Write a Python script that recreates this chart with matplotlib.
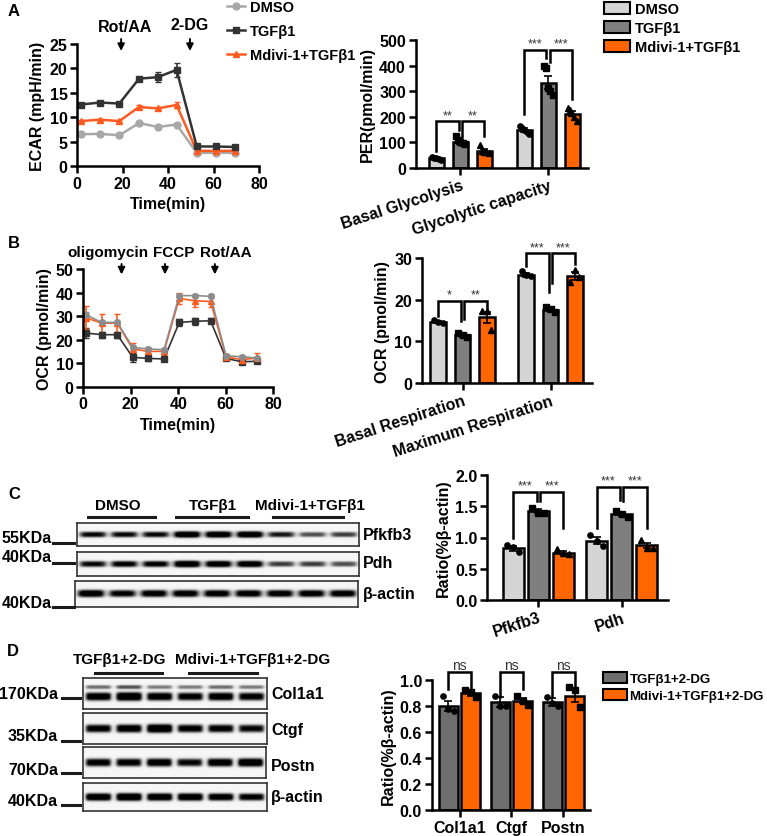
import matplotlib
matplotlib.use("Agg")
import matplotlib.pyplot as plt
import numpy as np
from matplotlib.lines import Line2D
from matplotlib.patches import Patch

plt.rcParams['font.family'] = ['Liberation Sans', 'DejaVu Sans']
plt.rcParams['font.weight'] = 'bold'
plt.rcParams['axes.labelweight'] = 'bold'

W, H = 767, 837

C_DMSO = '#d4d4d4'
C_TGF = '#7f7f7f'
C_MDV = '#ff6600'
C_TGF_D = '#6e6e6e'

# ---------------- data ----------------
# A: ECAR time course
ecar_time = [1.5, 10, 18.5, 27.2, 35.4, 43.7, 52.6, 60.9, 69.4]
ecar_dmso = [6.5, 6.6, 6.3, 8.8, 8.0, 8.5, 2.7, 2.7, 2.7]
ecar_tgf = [12.6, 13.0, 12.8, 17.9, 18.2, 19.7, 4.0, 4.0, 3.9]
ecar_mdv = [9.2, 9.5, 9.2, 12.1, 11.8, 12.5, 3.1, 3.1, 3.1]
ecar_dmso_err = [0.2, 0.2, 0.2, 0.2, 0.2, 0.2, 0.1, 0.1, 0.1]
ecar_tgf_err = [0.3, 0.3, 0.3, 0.4, 1.0, 1.5, 0.2, 0.2, 0.2]
ecar_mdv_err = [0.2, 0.2, 0.2, 0.3, 0.3, 0.6, 0.1, 0.1, 0.1]

# A: PER bars
per_groups = ['Basal Glycolysis', 'Glycolytic capacity']
per_dmso = [38, 148]
per_tgf = [103, 333]
per_mdv = [68, 212]
per_dmso_err = [4, 8]
per_tgf_err = [8, 25]
per_mdv_err = [5, 10]
per_dmso_pts = [[44, 40, 38, 34, 30], [165, 158, 150, 140, 132]]
per_tgf_pts = [[125, 110, 100, 96, 92], [400, 392, 312, 300, 285]]
per_mdv_pts = [[88, 68, 64, 62, 60], [235, 228, 215, 200, 182]]
per_sig = [(0, 0, 1, 183, 68, 148, '**'), (0, 1, 2, 183, 122, 124, '**'),
           (1, 0, 1, 462, 211, 428, '***'), (1, 1, 2, 462, 413, 270, '***')]

# B: OCR time course
ocr_time = [1.1, 7.7, 14.3, 20.8, 27.4, 34, 40.4, 47, 53.6, 60.1, 66.7, 73.3]
ocr_dmso = [30.6, 27.3, 27.3, 16.7, 16.0, 15.7, 38.7, 38.7, 38.4, 13.2, 12.7, 12.2]
ocr_tgf = [22.8, 22.1, 22.1, 12.5, 12.0, 11.8, 27.3, 27.8, 28.0, 12.0, 10.6, 10.8]
ocr_mdv = [29.3, 27.0, 27.0, 16.0, 15.0, 15.0, 37.5, 36.5, 36.2, 12.7, 11.5, 12.2]
ocr_dmso_err = [1.0, 0.8, 0.8, 0.8, 0.8, 0.8, 0.8, 0.8, 0.8, 0.6, 0.6, 0.6]
ocr_tgf_err = [2.2, 1.2, 1.2, 1.8, 1.0, 1.0, 1.5, 1.5, 1.0, 0.6, 1.0, 0.8]
ocr_mdv_err = [5.0, 4.0, 4.0, 2.5, 1.5, 1.5, 2.5, 2.5, 2.5, 1.0, 1.0, 2.0]

# B: OCR bars
ocr_groups = ['Basal Respiration', 'Maximum Respiration']
ocrb_dmso = [14.7, 26.0]
ocrb_tgf = [11.5, 17.5]
ocrb_mdv = [15.8, 25.7]
ocrb_dmso_err = [0.3, 0.5]
ocrb_tgf_err = [0.4, 0.3]
ocrb_mdv_err = [1.3, 1.0]
ocrb_dmso_pts = [[15.2, 14.6, 14.4], [27.0, 26.0, 25.7]]
ocrb_tgf_pts = [[12.0, 11.6, 11.0], [18.2, 17.8, 17.2]]
ocrb_mdv_pts = [[17.3, 17.3, 12.8], [24.3, 27.2, 25.5]]
ocr_sig = [(0, 0, 1, 19.8, 16.2, 15.0, '*'), (0, 1, 2, 19.8, 15.3, 18.0, '**'),
           (1, 0, 1, 31.2, 28.2, 22.0, '***'), (1, 1, 2, 31.2, 24.0, 28.6, '***')]

# C: western blot quantification
c_groups = ['Pfkfb3', 'Pdh']
c_dmso = [0.83, 0.95]
c_tgf = [1.42, 1.37]
c_mdv = [0.76, 0.88]
c_dmso_err = [0.04, 0.06]
c_tgf_err = [0.03, 0.03]
c_mdv_err = [0.03, 0.04]
c_dmso_pts = [[0.88, 0.85, 0.77], [1.04, 0.94, 0.86]]
c_tgf_pts = [[1.47, 1.40, 1.39], [1.42, 1.38, 1.33]]
c_mdv_pts = [[0.81, 0.75, 0.73], [0.96, 0.84, 0.84]]
c_sig = [(0, 0, 1, 1.73, 1.0, 1.59, '***'), (0, 1, 2, 1.73, 1.59, 1.16, '***'),
         (1, 0, 1, 1.81, 1.16, 1.60, '***'), (1, 1, 2, 1.81, 1.59, 1.16, '***')]

# C blot band intensities (9 lanes)
c_lanes = ['DMSO', 'TGFβ1', 'Mdivi-1+TGFβ1']
c_pfkfb3 = [0.80, 0.80, 0.80, 1.00, 1.00, 1.00, 0.75, 0.60, 0.65]
c_pdh = [0.80, 0.85, 0.85, 1.00, 0.95, 0.95, 0.65, 0.65, 0.60]
c_actin = [0.95, 0.85, 0.90, 0.90, 0.90, 0.90, 0.90, 0.90, 0.90]

# D: western blot quantification
d_groups = ['Col1a1', 'Ctgf', 'Postn']
d_tgf = [0.80, 0.83, 0.83]
d_mdv = [0.90, 0.84, 0.88]
d_tgf_err = [0.04, 0.04, 0.03]
d_mdv_err = [0.02, 0.02, 0.05]
d_tgf_pts = [[0.88, 0.78, 0.76], [0.88, 0.80, 0.80], [0.87, 0.82, 0.80]]
d_mdv_pts = [[0.92, 0.91, 0.87], [0.88, 0.84, 0.81], [0.95, 0.92, 0.79]]
d_sig = [(0, 0, 1, 1.06, 0.93, 0.93, 'ns'), (1, 0, 1, 1.06, 0.87, 0.93, 'ns'),
         (2, 0, 1, 1.06, 0.87, 0.94, 'ns')]

# D blot band intensities (6 lanes)
d_lanes = ['TGFβ1+2-DG', 'Mdivi-1+TGFβ1+2-DG']
d_col1a1 = [0.90, 1.00, 0.90, 0.85, 0.90, 0.85]
d_col1a1_upper = [0.55, 0.65, 0.50, 0.50, 0.55, 0.50]
d_ctgf = [0.85, 0.90, 1.00, 0.85, 0.85, 0.80]
d_postn = [0.85, 0.85, 0.90, 0.80, 0.90, 0.95]
d_actin = [0.95, 1.00, 0.95, 0.95, 0.90, 0.85]

# ---------------- helpers ----------------
fig = plt.figure(figsize=(W / 100, H / 100), dpi=100)


def px_axes(l, t, r, b):
    return fig.add_axes([l / W, 1 - b / H, (r - l) / W, (b - t) / H])


def ftext(x, y, s, **kw):
    kw.setdefault('fontsize', 11)
    kw.setdefault('va', 'center')
    fig.text(x / W, 1 - y / H, s, **kw)


def fline(x1, x2, y, lw=2.2, color='#1a1a1a'):
    fig.add_artist(Line2D([x1 / W, x2 / W], [1 - y / H, 1 - y / H],
                          transform=fig.transFigure, color=color, lw=lw))


def style(ax, lw=1.8):
    ax.spines[['top', 'right']].set_visible(False)
    for s in ['left', 'bottom']:
        ax.spines[s].set_linewidth(lw)
    ax.tick_params(width=lw, length=5, labelsize=11.5, pad=2)


def bar_panel(ax, means, errs, pts, colors, markers, offsets, width, sig):
    for k in range(len(means)):
        for g in range(len(means[k])):
            x = g + offsets[k]
            ax.bar(x, means[k][g], width, color=colors[k], edgecolor='k',
                   linewidth=1.8, zorder=2)
            ax.errorbar(x, means[k][g], yerr=errs[k][g], color='k', capsize=3,
                        lw=1.2, capthick=1.2, zorder=3)
            p = pts[k][g]
            xs = x + np.linspace(-width * 0.3, width * 0.3, len(p))
            ax.plot(xs, p, ls='none', marker=markers[k], color='k', ms=3.8,
                    zorder=4, clip_on=False)
    gap = 0.02
    for g, k1, k2, top, y1, y2, lab in sig:
        x1 = g + offsets[k1] + (gap if k1 > 0 else 0)
        x2 = g + offsets[k2] - (gap if k2 < len(means) - 1 else 0)
        if k1 == 0 and len(means) == 3:
            x2 = g + offsets[k2] - gap
        ax.plot([x1, x1, x2, x2], [y1, top, top, y2], color='k', lw=1.8,
                clip_on=False, solid_joinstyle='miter')
        ax.text((x1 + x2) / 2, top, lab, ha='center', va='bottom',
                fontsize=9 if lab != 'ns' else 10, fontweight='normal',
                color='#333333')


def blot(l, t, r, b, amp, upper=None, yc=0.0):
    ax = px_axes(l, t, r, b)
    h, w = 80, 500
    yy = np.linspace(-1, 1, h)[:, None]
    xx = np.linspace(0, 1, w)[None, :]
    img = np.full((h, w), 0.07)
    n = len(amp)
    for i, a in enumerate(amp):
        cx = (i + 0.5) / n
        half = 0.41 / n
        prof_x = 1 / (1 + np.exp((np.abs(xx - cx) - half) / 0.006))
        sig = 0.14 + 0.16 * a
        band = np.exp(-(np.abs(yy - yc) / sig) ** 3)
        img += 1.1 * a * prof_x * band
        if upper is not None:
            img += upper[i] * prof_x * np.exp(-(np.abs(yy + 0.42) / 0.14) ** 3)
    ax.imshow(np.clip(img, 0, 1), cmap='Greys', vmin=0, vmax=0.95,
              aspect='auto', interpolation='bilinear')
    ax.set_xticks([])
    ax.set_yticks([])
    for sp in ax.spines.values():
        sp.set_linewidth(1.2)
        sp.set_color('#333333')
    return ax


# ---------------- A: ECAR line ----------------
ax = px_axes(77.3, 45, 259, 167)
for vals, err, c, m in [(ecar_dmso, ecar_dmso_err, '#a8a8a8', 'o'),
                        (ecar_mdv, ecar_mdv_err, '#ff5a1f', '^'),
                        (ecar_tgf, ecar_tgf_err, '#333333', 's')]:
    ax.errorbar(ecar_time, vals, yerr=err, color=c, marker=m, ms=5, lw=1.8,
                capsize=2.5, elinewidth=1.2, clip_on=False)
ax.set_xlim(0, 80)
ax.set_ylim(0, 25)
ax.set_xticks([0, 20, 40, 60, 80])
ax.set_yticks([0, 5, 10, 15, 20, 25])
style(ax)
ax.set_xlabel('Time(min)', fontsize=11.5, labelpad=4)
ax.set_ylabel('ECAR (mpH/min)', fontsize=11.5, labelpad=3)
for t in [19.3, 49.6]:
    ax.annotate('', xy=(t, 23.0), xytext=(t, 26.6), annotation_clip=False,
                arrowprops=dict(arrowstyle='-|>', color='k', lw=1.4,
                                mutation_scale=10))
ftext(125, 27, 'Rot/AA', ha='center', fontsize=11.5)
ftext(190, 26, '2-DG', ha='center', fontsize=11.5)
ftext(8, 12, 'A', fontsize=12)

handles = [Line2D([], [], color='#a8a8a8', marker='o', ms=5, lw=1.8),
           Line2D([], [], color='#333333', marker='s', ms=5, lw=1.8),
           Line2D([], [], color='#ff5a1f', marker='^', ms=5, lw=1.8)]
fig.legend(handles, ['DMSO', 'TGFβ1', 'Mdivi-1+TGFβ1'], loc='upper left',
           bbox_to_anchor=(227 / W, 1 - 1 / H), frameon=False, fontsize=10.5,
           handlelength=1.2, handletextpad=0.4, labelspacing=0.7,
           borderpad=0, borderaxespad=0)

# ---------------- A: PER bars ----------------
ax = px_axes(415.7, 41, 588, 169)
bar_panel(ax, [per_dmso, per_tgf, per_mdv],
          [per_dmso_err, per_tgf_err, per_mdv_err],
          [per_dmso_pts, per_tgf_pts, per_mdv_pts],
          [C_DMSO, C_TGF, C_MDV], ['o', 's', '^'], [-0.272, 0, 0.272], 0.17,
          per_sig)
ax.set_xlim(-0.507, 1.453)
ax.set_ylim(0, 500)
ax.set_yticks([0, 100, 200, 300, 400, 500])
ax.set_xticks([0, 1])
ax.set_xticklabels(per_groups, rotation=18, ha='right', rotation_mode='anchor',
                   fontsize=10.5)
style(ax)
ax.set_ylabel('PER(pmol/min)', fontsize=11.5, labelpad=3)
fig.legend([Patch(facecolor=c, edgecolor='k', lw=1.5) for c in (C_DMSO, C_TGF, C_MDV)],
           ['DMSO', 'TGFβ1', 'Mdivi-1+TGFβ1'], loc='upper left',
           bbox_to_anchor=(604 / W, 1 - 3 / H), frameon=False, fontsize=10.5,
           handlelength=1.8, handleheight=0.9, handletextpad=0.3,
           labelspacing=0.35, borderpad=0, borderaxespad=0)

# ---------------- B: OCR line ----------------
ax = px_axes(83.3, 270, 273.3, 387.7)
for vals, err, c, m in [(ocr_tgf, ocr_tgf_err, '#333333', 's'),
                        (ocr_mdv, ocr_mdv_err, '#ff5a1f', '^'),
                        (ocr_dmso, ocr_dmso_err, '#8c8c8c', 'o')]:
    ax.errorbar(ocr_time, vals, yerr=err, color=c, marker=m, ms=4, lw=1.2,
                capsize=2.5, elinewidth=1.2, clip_on=False)
ax.set_xlim(0, 80)
ax.set_ylim(0, 50)
ax.set_xticks([0, 20, 40, 60, 80])
ax.set_yticks([0, 10, 20, 30, 40, 50])
style(ax)
ax.set_xlabel('Time(min)', fontsize=11.5, labelpad=4)
ax.set_ylabel('OCR (pmol/min)', fontsize=11.5, labelpad=3)
for t in [16.1, 34.4, 55.4]:
    ax.annotate('', xy=(t, 46.5), xytext=(t, 53.3), annotation_clip=False,
                arrowprops=dict(arrowstyle='-|>', color='k', lw=1.4,
                                mutation_scale=10))
ftext(108, 253, 'oligomycin', ha='center', fontsize=11)
ftext(174, 253, 'FCCP', ha='center', fontsize=11)
ftext(226, 253, 'Rot/AA', ha='center', fontsize=11)
ftext(8, 244, 'B', fontsize=12)

# ---------------- B: OCR bars ----------------
ax = px_axes(421.7, 259.3, 591.7, 384)
bar_panel(ax, [ocrb_dmso, ocrb_tgf, ocrb_mdv],
          [ocrb_dmso_err, ocrb_tgf_err, ocrb_mdv_err],
          [ocrb_dmso_pts, ocrb_tgf_pts, ocrb_mdv_pts],
          [C_DMSO, C_TGF, C_MDV], ['o', 's', '^'], [-0.275, 0, 0.275], 0.178,
          ocr_sig)
ax.set_xlim(-0.464, 1.468)
ax.set_ylim(0, 30)
ax.set_yticks([0, 10, 20, 30])
ax.set_xticks([0, 1])
ax.set_xticklabels(ocr_groups, rotation=18, ha='right', rotation_mode='anchor',
                   fontsize=10.5)
style(ax)
ax.set_ylabel('OCR (pmol/min)', fontsize=11.5, labelpad=3)

# ---------------- C: blots ----------------
ftext(8, 495, 'C', fontsize=12)
for cx, x1, x2, lab in [(118, 88, 155, c_lanes[0]), (213, 176, 248, c_lanes[1]),
                        (310, 273, 343, c_lanes[2])]:
    ftext(cx, 506, lab, ha='center', fontsize=11)
    fline(x1, x2, 517.7)
blot(76.7, 524.3, 359.3, 546.7, c_pfkfb3)
blot(76.7, 552.7, 359.3, 576.7, c_pdh)
blot(75, 581.7, 358.3, 608, c_actin)
for y, ly, lab in [(538.5, 544, '55KDa'), (557.5, 564, '40KDa'), (603, 608, '40KDa')]:
    ftext(52, y, lab, ha='right', fontsize=11.5)
    fline(53, 74, ly)
for y, lab in [(536, 'Pfkfb3'), (564, 'Pdh'), (595, 'β-actin')]:
    ftext(363, y, lab, ha='left', fontsize=11.5)

# ---------------- C: bars ----------------
ax = px_axes(487.3, 476, 668.3, 601)
bar_panel(ax, [c_dmso, c_tgf, c_mdv], [c_dmso_err, c_tgf_err, c_mdv_err],
          [c_dmso_pts, c_tgf_pts, c_mdv_pts],
          [C_DMSO, C_TGF, C_MDV], ['o', 's', '^'], [-0.30, 0, 0.30], 0.246,
          c_sig)
ax.set_xlim(-0.611, 1.559)
ax.set_ylim(0, 2.0)
ax.set_yticks([0, 0.5, 1.0, 1.5, 2.0])
ax.set_yticklabels(['0.0', '0.5', '1.0', '1.5', '2.0'])
ax.set_xticks([0, 1])
ax.set_xticklabels(c_groups, rotation=18, ha='right', rotation_mode='anchor',
                   fontsize=11)
style(ax)
ax.set_ylabel('Ratio(%β-actin)', fontsize=11.5, labelpad=3)

# ---------------- D: blots ----------------
ftext(7, 652, 'D', fontsize=12)
for cx, x1, x2, lab in [(120, 95, 161.7, d_lanes[0]), (253, 189, 256.7, d_lanes[1])]:
    ftext(cx, 660, lab, ha='center', fontsize=11)
    fline(x1, x2, 674)
blot(83.3, 679, 266.7, 710, d_col1a1, upper=d_col1a1_upper, yc=0.2)
blot(83.3, 714, 266.7, 745, d_ctgf)
blot(83.3, 748.3, 266, 779.3, d_postn)
blot(83.3, 784, 267.3, 811.7, d_actin)
for y, ly, lab in [(695, 699.3, '170KDa'), (736.7, 741.7, '35KDa'),
                   (770.7, 774, '70KDa'), (801.7, 806, '40KDa')]:
    ftext(58, y, lab, ha='right', fontsize=11.5)
    fline(62, 80, ly)
for y, lab in [(695, 'Col1a1'), (730, 'Ctgf'), (767, 'Postn'), (798, 'β-actin')]:
    ftext(271, y, lab, ha='left', fontsize=11.5)

# ---------------- D: bars ----------------
ax = px_axes(431.7, 681, 590, 811)
bar_panel(ax, [d_tgf, d_mdv], [d_tgf_err, d_mdv_err], [d_tgf_pts, d_mdv_pts],
          [C_TGF_D, C_MDV], ['o', 's'], [-0.217, 0.217], 0.365, d_sig)
ax.set_xlim(-0.535, 2.51)
ax.set_ylim(0, 1.0)
ax.set_yticks([0, 0.2, 0.4, 0.6, 0.8, 1.0])
ax.set_yticklabels(['0.0', '0.2', '0.4', '0.6', '0.8', '1.0'])
ax.set_xticks([0, 1, 2])
ax.set_xticklabels(d_groups, fontsize=11.5)
style(ax)
ax.set_ylabel('Ratio(%β-actin)', fontsize=11.5, labelpad=3)
fig.legend([Patch(facecolor=c, edgecolor='k', lw=1.5) for c in (C_TGF_D, C_MDV)],
           ['TGFβ1+2-DG', 'Mdivi-1+TGFβ1+2-DG'], loc='upper left',
           bbox_to_anchor=(603 / W, 1 - 673 / H), frameon=False, fontsize=9.5,
           handlelength=1.8, handleheight=0.9, handletextpad=0.2,
           labelspacing=0.3, borderpad=0, borderaxespad=0)

fig.savefig('out.png', dpi=100)
